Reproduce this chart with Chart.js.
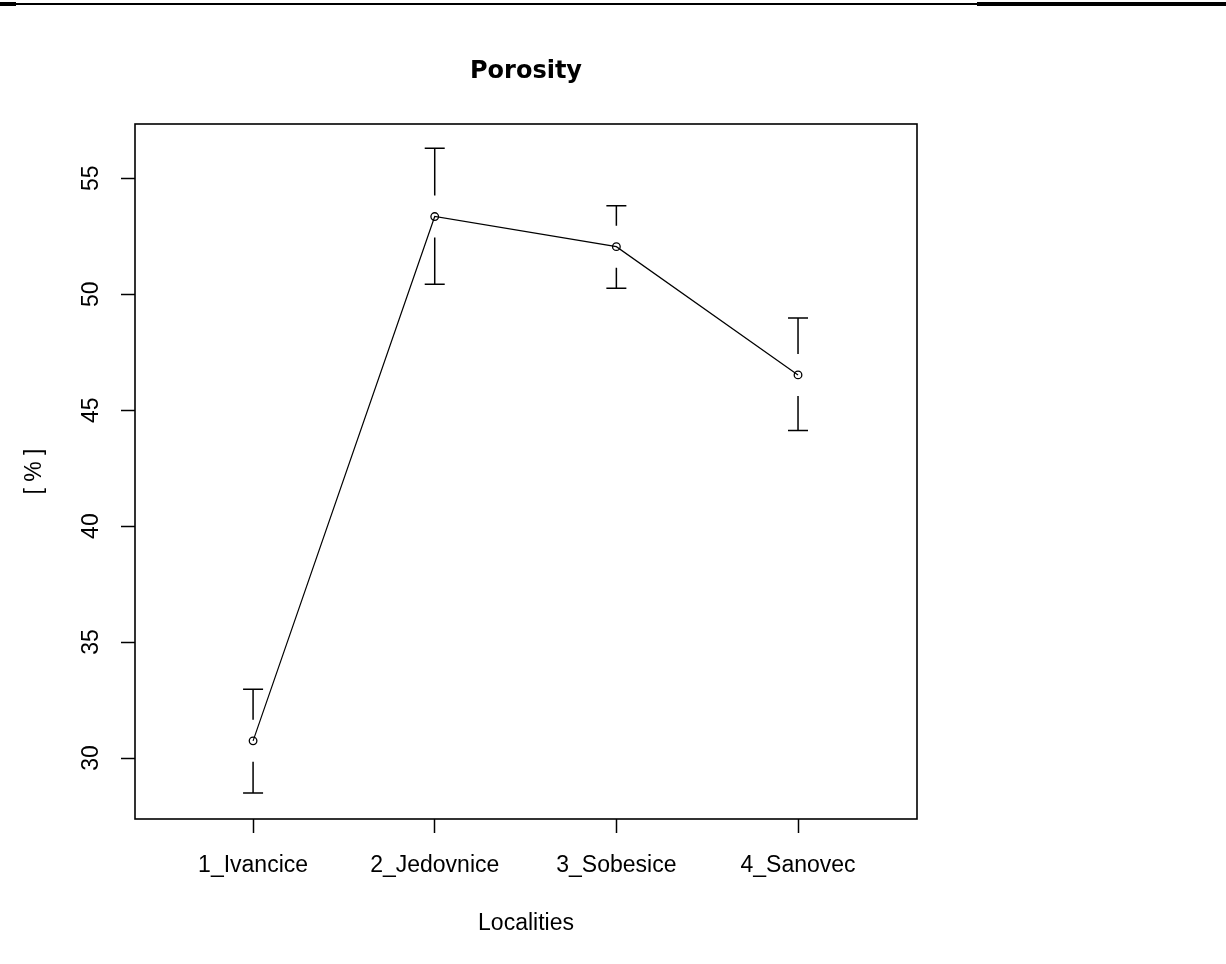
<!DOCTYPE html>
<html>
<head>
<meta charset="utf-8">
<title>Porosity</title>
<script src="https://cdn.jsdelivr.net/npm/chart.js@4/dist/chart.umd.min.js"></script>
<style>
  body { margin: 0; background: #fff; }
  #wrap { position: relative; width: 1226px; height: 964px; }
  .rule { position: absolute; background: #000; }
</style>
</head>
<body>
<div id="wrap">
  <div class="rule" style="left:0;top:2px;width:16px;height:4px"></div>
  <div class="rule" style="left:16px;top:3px;width:961px;height:2px"></div>
  <div class="rule" style="left:977px;top:2px;width:249px;height:4px"></div>
  <canvas id="chart" width="1226" height="964"></canvas>
</div>
<script>
// values
const categories = ["1_Ivancice", "2_Jedovnice", "3_Sobesice", "4_Sanovec"];
const means = [30.74, 53.35, 52.05, 46.52];
const upper = [32.97, 56.29, 53.82, 48.97];
const lower = [28.49, 50.43, 50.26, 44.12];
const yTicks = [30, 35, 40, 45, 50, 55];

const tickFont = { family: "Liberation Sans", size: 23 };

// error bars, frame box and rotated y labels (R style)
const rStyle = {
  id: "rStyle",
  afterDatasetsDraw(chart) {
    const { ctx, chartArea, scales: { x, y } } = chart;
    const gap = 21;
    const cap = 10;
    ctx.save();
    ctx.strokeStyle = "#000";
    ctx.lineWidth = 1.5;
    means.forEach((m, i) => {
      const px = x.getPixelForValue(i + 1);
      const py = y.getPixelForValue(m);
      const pu = y.getPixelForValue(upper[i]);
      const pl = y.getPixelForValue(lower[i]);
      ctx.beginPath();
      ctx.moveTo(px, py - gap);
      ctx.lineTo(px, pu);
      ctx.moveTo(px - cap, pu);
      ctx.lineTo(px + cap, pu);
      ctx.moveTo(px, py + gap);
      ctx.lineTo(px, pl);
      ctx.moveTo(px - cap, pl);
      ctx.lineTo(px + cap, pl);
      ctx.stroke();
    });

    ctx.lineWidth = 1.6;
    ctx.strokeRect(chartArea.left, chartArea.top, chartArea.width, chartArea.height);

    ctx.font = tickFont.size + 'px "' + tickFont.family + '"';
    ctx.fillStyle = "#000";
    ctx.textAlign = "center";
    ctx.textBaseline = "middle";
    yTicks.forEach((v) => {
      ctx.save();
      ctx.translate(chartArea.left - 43, y.getPixelForValue(v));
      ctx.rotate(-Math.PI / 2);
      ctx.fillText(String(v), 0, 0);
      ctx.restore();
    });
    ctx.restore();
  },
};

const points = means.map((m, i) => ({ x: i + 1, y: m }));

const ctx = document.getElementById("chart");

new Chart(ctx, {
  type: "line",
  data: {
    datasets: [
      {
        data: points,
        borderColor: "#000",
        borderWidth: 1.2,
        pointRadius: 3.8,
        pointHoverRadius: 3.8,
        pointBorderWidth: 1.3,
        pointBorderColor: "#000",
        pointBackgroundColor: "rgba(0,0,0,0)",
        tension: 0,
      },
    ],
  },
  options: {
    responsive: false,
    animation: false,
    events: [],
    layout: { padding: { left: 0, top: 0, right: 309, bottom: 0 } },
    plugins: {
      legend: { display: false },
      tooltip: { enabled: false },
      title: {
        display: true,
        text: "Porosity",
        fullSize: false,
        color: "#000",
        font: { family: "DejaVu Sans", size: 24, weight: "bold" },
        padding: { top: 57, bottom: 38.2 },
      },
    },
    scales: {
      x: {
        type: "linear",
        min: 0.35,
        max: 4.655,
        border: { display: false },
        grid: {
          display: true,
          drawOnChartArea: false,
          drawTicks: true,
          tickLength: 14,
          tickWidth: 1.5,
          color: "#000",
        },
        ticks: {
          stepSize: 1,
          includeBounds: false,
          autoSkip: false,
          maxRotation: 0,
          padding: 19,
          color: "#000",
          font: tickFont,
          callback: (v) => categories[v - 1] || "",
        },
        title: {
          display: true,
          text: "Localities",
          color: "#000",
          font: tickFont,
          padding: { top: 0, bottom: 27 },
        },
        afterFit(scale) {
          scale.height = 145;
        },
      },
      y: {
        type: "linear",
        min: 27.37,
        max: 57.34,
        border: { display: false },
        grid: {
          display: true,
          drawOnChartArea: false,
          drawTicks: true,
          tickLength: 14,
          tickWidth: 1.5,
          color: "#000",
        },
        ticks: {
          stepSize: 5,
          includeBounds: false,
          color: "rgba(0,0,0,0)",
          font: tickFont,
        },
        title: {
          display: true,
          text: "[ % ]",
          color: "#000",
          font: tickFont,
          padding: { top: 21, bottom: 0 },
        },
        afterFit(scale) {
          scale.width = 135;
        },
      },
    },
  },
  plugins: [rStyle],
});
</script>
</body>
</html>
